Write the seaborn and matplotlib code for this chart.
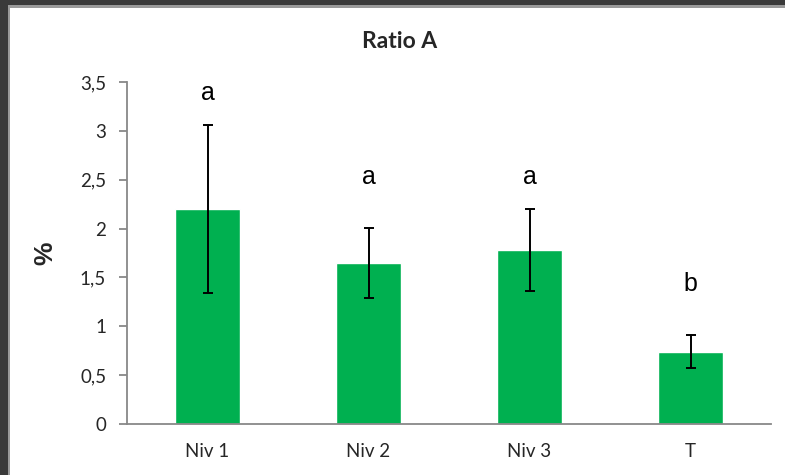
import matplotlib
matplotlib.use("Agg")
import matplotlib.pyplot as plt
from matplotlib.patches import Rectangle
import seaborn as sns
import pandas as pd

# Data
groups = ["Niv 1", "Niv 2", "Niv 3", "T"]
means = [2.20, 1.65, 1.78, 0.74]
errors = [0.86, 0.36, 0.42, 0.17]
letters = ["a", "a", "a", "b"]
letter_y = [3.39, 2.53, 2.53, 1.43]
y_ticks = [0, 0.5, 1, 1.5, 2, 2.5, 3, 3.5]
y_tick_labels = ["0", "0,5", "1", "1,5", "2", "2,5", "3", "3,5"]

sns.set_theme(style="white")
plt.rcParams["font.family"] = ["Lato", "DejaVu Sans"]

fig = plt.figure(figsize=(7.85, 4.75), dpi=100)
fig.patch.set_facecolor("white")

# Dark window frame along the top and left edges
W, H = 785, 475
fig.patches.append(Rectangle((0, 1 - 5 / H), 1, 5 / H, transform=fig.transFigure,
                             facecolor="#3a3a3a", edgecolor="none", zorder=0))
fig.patches.append(Rectangle((0, 1 - 8 / H), 1, 3 / H, transform=fig.transFigure,
                             facecolor="#9a9a9a", edgecolor="none", zorder=0))
fig.patches.append(Rectangle((0, 0), 8 / W, 1, transform=fig.transFigure,
                             facecolor="#3a3a3a", edgecolor="none", zorder=0))
fig.patches.append(Rectangle((8 / W, 0), 2 / W, 1 - 5 / H, transform=fig.transFigure,
                             facecolor="#9a9a9a", edgecolor="none", zorder=0))

ax = fig.add_axes([127 / W, 51 / H, 644 / W, 342 / H])

df = pd.DataFrame({"group": groups, "mean": means})
sns.barplot(data=df, x="group", y="mean", color="#00B050", saturation=1,
            width=0.4, errorbar=None, ax=ax, zorder=2)

xs = range(len(groups))
ax.errorbar(list(xs), means, yerr=errors, fmt="none", ecolor="black",
            elinewidth=1.4, capsize=3.8, capthick=1.4, zorder=3)

for x, lab, y in zip(xs, letters, letter_y):
    ax.text(x, y, lab, ha="center", va="center", fontsize=18,
            family=["Liberation Sans", "DejaVu Sans"], color="black")

ax.set_xlim(-0.5, len(groups) - 0.5)
ax.set_ylim(0, 3.5)
ax.set_yticks(y_ticks)
ax.set_yticklabels(y_tick_labels)
ax.set_xlabel("")
ax.set_ylabel("%", fontsize=19, fontweight="bold",
              family=["Liberation Sans", "DejaVu Sans"], labelpad=16)

for side in ["top", "right"]:
    ax.spines[side].set_visible(False)
for side in ["left", "bottom"]:
    ax.spines[side].set_color("#888888")
    ax.spines[side].set_linewidth(1.3)

# Category-boundary ticks on the x axis, outward ticks on y
ax.set_xticks([i - 0.5 for i in range(len(groups) + 1)], minor=True)
ax.tick_params(axis="x", which="major", length=0, labelsize=13.5, pad=14)
ax.tick_params(axis="x", which="minor", length=6, width=1.3, color="#888888",
               direction="out")
ax.tick_params(axis="y", length=6, width=1.3, color="#888888", labelsize=13.5,
               left=True, direction="out", pad=9)

fig.text(400 / W, 1 - 42 / H, "Ratio A", ha="center", va="center",
         fontsize=16.5, fontweight="bold")

fig.savefig("out.png", dpi=100)
